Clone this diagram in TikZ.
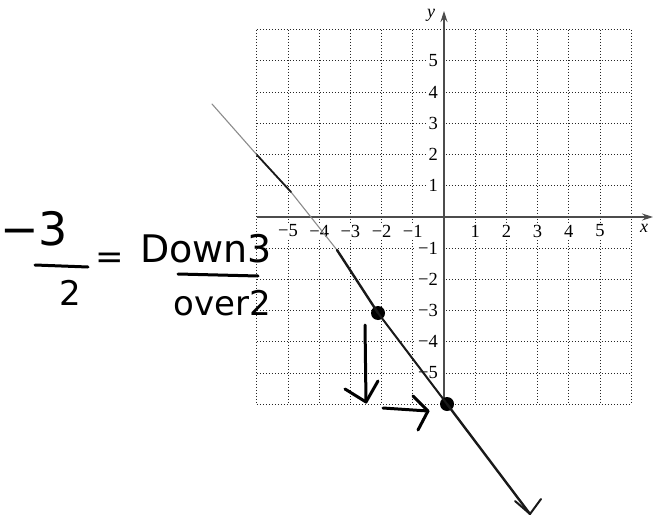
\documentclass[tikz,border=0pt]{standalone}
\usepackage{fontspec}
\setmainfont{Liberation Serif}
\newfontfamily\handfont{DejaVu Sans}
\usetikzlibrary{arrows.meta}
\tikzset{
  gridline/.style={line width=1pt, dash pattern=on 1pt off 2pt, black!85},
  axisline/.style={line width=1.2pt, black!70, -{Stealth[length=11pt,width=7pt]}},
  ticklab/.style={font=\fontsize{18.5}{20}\selectfont, fill=white, inner ysep=1pt, inner xsep=3pt},
  handtext/.style={font=\handfont, inner sep=0pt, text=black},
  handstroke/.style={line width=3pt, line cap=round, line join=round, black},
  graphdark/.style={line width=2.4pt, line cap=round, black!90},
  graphfaint/.style={line width=1.1pt, line cap=round, black!45},
  graphdot/.style={circle, fill=black, inner sep=0pt, minimum size=14pt}
}
\begin{document}
\begin{tikzpicture}[x=1pt,y=-1pt]
\useasboundingbox[fill=white] (0,0) rectangle (653,519);
% grid
\foreach \i in {-6,...,6}{
  \draw[gridline] ({444+\i*31.2},29.8) -- ({444+\i*31.2},404.2);
  \draw[gridline] (256.8,{217+\i*31.2}) -- (631.2,{217+\i*31.2});
}
% axes
\coordinate (ybot) at (444,404.2);
\coordinate (ytop) at (444,11);
\coordinate (xleft) at (256.8,217);
\coordinate (xright) at (653,217);
\draw[axisline] (ybot) -- (ytop);
\draw[axisline] (xleft) -- (xright);
\node[font=\itshape\fontsize{18}{20}\selectfont, inner sep=0pt] (ylab) at (431,15) {y};
\node[font=\itshape\fontsize{18}{20}\selectfont, inner sep=0pt] (xlab) at (644,228) {x};
% x tick labels
\foreach \i/\t in {-5/−5,-4/−4,-3/−3,-2/−2,-1/−1,1/1,2/2,3/3,4/4,5/5}{
  \node[ticklab] (xl\i) at ({444+\i*31.2},231) {\t};
}
% y tick labels
\foreach \i/\t in {-5/−5,-4/−4,-3/−3,-2/−2,-1/−1,1/1,2/2,3/3,4/4,5/5}{
  \node[ticklab, anchor=east] (yl\i) at (441,{217-\i*31.2}) {\t};
}
% hand-drawn line
\coordinate (S) at (212,104);
\coordinate (B) at (257,155);
\coordinate (G1) at (291,192);
\coordinate (G2) at (337,250);
\node[graphdot] (P1) at (378,313) {};
\node[graphdot] (P2) at (447,404) {};
\coordinate (E) at (530,514);
\coordinate (EL) at (515,501);
\coordinate (ER) at (541,499);
\draw[graphfaint] (S) -- (B) -- (G1) -- (G2) -- (P1) -- (P2) -- (E);
\draw[graphdark, line width=1.8pt] (B) -- (G1);
\draw[graphdark] (G2) -- (P1.center);
\draw[graphdark, line width=2pt] (P1.center) -- (P2.center);
\draw[graphdark] (P2.center) -- (E);
\draw[graphdark, line width=2pt, line join=round] (EL) -- (E) -- (ER);
% hand arrows
\coordinate (d1) at (365,325);
\coordinate (d2) at (366,402);
\coordinate (d3) at (345,389);
\coordinate (d4) at (378,381);
\draw[handstroke] (d1) -- (d2);
\draw[handstroke] (d3) -- (d2) -- (d4);
\coordinate (r1) at (383,408);
\coordinate (r2) at (428,411);
\coordinate (r3) at (413,396);
\coordinate (r4) at (418,430);
\draw[handstroke] (r1) -- (r2);
\draw[handstroke] (r3) -- (r2) -- (r4);
% handwriting
\node[handtext, anchor=base west, font=\handfont\fontsize{46}{48}\selectfont] (num) at (0,245) {−3};
\coordinate (b1) at (35,265);
\coordinate (b2) at (88,267);
\draw[handstroke] (b1) -- (b2);
\node[handtext, anchor=base, font=\handfont\fontsize{34}{36}\selectfont] (den) at (70,305) {2};
\node[handtext, font=\handfont\fontsize{34}{36}\selectfont] (eq) at (110,261) {=};
\node[handtext, anchor=base west, font=\handfont\fontsize{38}{40}\selectfont] (down) at (140,262) {Down3};
\coordinate (c1) at (178,274);
\coordinate (c2) at (258,276);
\draw[handstroke] (c1) -- (c2);
\node[handtext, anchor=base west, font=\handfont\fontsize{34}{36}\selectfont] (over) at (173,315) {over2};
\end{tikzpicture}
\end{document}
